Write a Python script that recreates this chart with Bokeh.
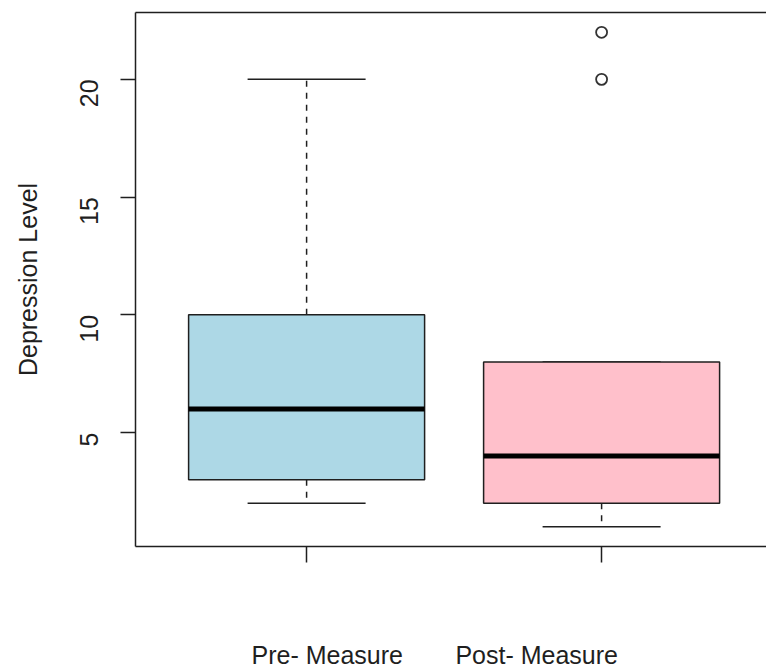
import math
from bokeh.plotting import figure
from bokeh.models import Range1d, LinearAxis, FixedTicker
from bokeh.embed import file_html
from bokeh.resources import INLINE

# ---- data ----
groups = ["Pre- Measure", "Post- Measure"]
xpos = [1, 2]
lower_whisker = [2, 1]
q1 = [3, 2]
median = [6, 4]
q3 = [10, 8]
upper_whisker = [20, 8]
outlier_group = [2, 2]
outlier_values = [20, 22]
fill_colors = ["#ADD8E6", "#FFC0CB"]
y_ticks = [5, 10, 15, 20]
y_label = "Depression Level"
label_shift = [0.07, -0.22]   # horizontal placement of the group names

# ---- styling ----
FONT = "Liberation Sans"
FS = "25px"
INK = "#1f1f1f"
BOX_W = 0.8
STAPLE_W = 0.4
W, H = 766, 671
LEFT = 135
PX_PER_UNIT = 295

allv = lower_whisker + upper_whisker + outlier_values
ymin, ymax = min(allv), max(allv)
pad = 0.04 * (ymax - ymin)
x0 = 0.5 - 0.08

p = figure(width=W, height=H, output_backend="svg", toolbar_location=None,
           x_range=Range1d(x0, x0 + (W - LEFT) / PX_PER_UNIT),
           y_range=Range1d(ymin - pad, ymax + pad),
           x_axis_location=None, y_axis_location=None,
           min_border_left=LEFT, min_border_right=0, min_border_top=12,
           min_border_bottom=124)
p.outline_line_color = None
p.xgrid.visible = False
p.ygrid.visible = False
p.background_fill_color = "white"
p.border_fill_color = "white"

# whiskers
p.segment(x0=xpos, y0=q3, x1=xpos, y1=upper_whisker, line_color=INK,
          line_width=1.5, line_dash="6 6")
p.segment(x0=xpos, y0=q1, x1=xpos, y1=lower_whisker, line_color=INK,
          line_width=1.5, line_dash="6 6")
# staples
p.segment(x0=[x - STAPLE_W / 2 for x in xpos], y0=upper_whisker,
          x1=[x + STAPLE_W / 2 for x in xpos], y1=upper_whisker,
          line_color=INK, line_width=1.5)
p.segment(x0=[x - STAPLE_W / 2 for x in xpos], y0=lower_whisker,
          x1=[x + STAPLE_W / 2 for x in xpos], y1=lower_whisker,
          line_color=INK, line_width=1.5)
# boxes
p.vbar(x=xpos, width=BOX_W, bottom=q1, top=q3, fill_color=fill_colors,
       line_color=INK, line_width=1.5)
# medians
p.segment(x0=[x - BOX_W / 2 for x in xpos], y0=median,
          x1=[x + BOX_W / 2 for x in xpos], y1=median,
          line_color="black", line_width=5, line_cap="butt")
# outliers
p.scatter(x=outlier_group, y=outlier_values, marker="circle", size=11,
          fill_color=None, line_color="#333333", line_width=1.8)

# left axis
ya = LinearAxis(ticker=FixedTicker(ticks=y_ticks), axis_label=y_label)
ya.major_label_orientation = math.pi / 2
ya.major_tick_out = 15
ya.major_tick_in = 0
ya.minor_tick_out = 0
ya.minor_tick_in = 0
ya.major_label_standoff = 31
ya.axis_label_standoff = 27
ya.major_label_text_font = FONT
ya.major_label_text_font_size = FS
ya.major_label_text_color = INK
ya.axis_label_text_font = FONT
ya.axis_label_text_font_size = FS
ya.axis_label_text_font_style = "normal"
ya.axis_label_text_color = INK
ya.axis_line_color = INK
ya.axis_line_width = 1.5
ya.major_tick_line_color = INK
ya.major_tick_line_width = 1.5
p.add_layout(ya, "left")

# bottom axis with tick marks
xa = LinearAxis(ticker=FixedTicker(ticks=xpos))
xa.major_label_overrides = {x: "" for x in xpos}
xa.major_tick_out = 16
xa.major_tick_in = 0
xa.minor_tick_out = 0
xa.minor_tick_in = 0
xa.major_label_standoff = 0
xa.major_label_text_font_size = "1px"
xa.axis_line_color = INK
xa.axis_line_width = 1.5
xa.major_tick_line_color = INK
xa.major_tick_line_width = 1.5
p.add_layout(xa, "below")

# group names
label_x = [x + d for x, d in zip(xpos, label_shift)]
xl = LinearAxis(ticker=FixedTicker(ticks=label_x))
xl.major_label_overrides = {lx: g for lx, g in zip(label_x, groups)}
xl.major_tick_out = 0
xl.major_tick_in = 0
xl.minor_tick_out = 0
xl.minor_tick_in = 0
xl.axis_line_color = None
xl.major_tick_line_color = None
xl.major_label_standoff = 78
xl.major_label_text_font = FONT
xl.major_label_text_font_size = FS
xl.major_label_text_color = INK
p.add_layout(xl, "below")

# top frame line
ta = LinearAxis(ticker=FixedTicker(ticks=[]))
ta.major_tick_out = 0
ta.major_tick_in = 0
ta.minor_tick_out = 0
ta.minor_tick_in = 0
ta.major_label_standoff = 0
ta.major_label_text_font_size = "1px"
ta.axis_line_color = INK
ta.axis_line_width = 1.5
p.add_layout(ta, "above")

open("out.html", "w").write(file_html(p, INLINE))
